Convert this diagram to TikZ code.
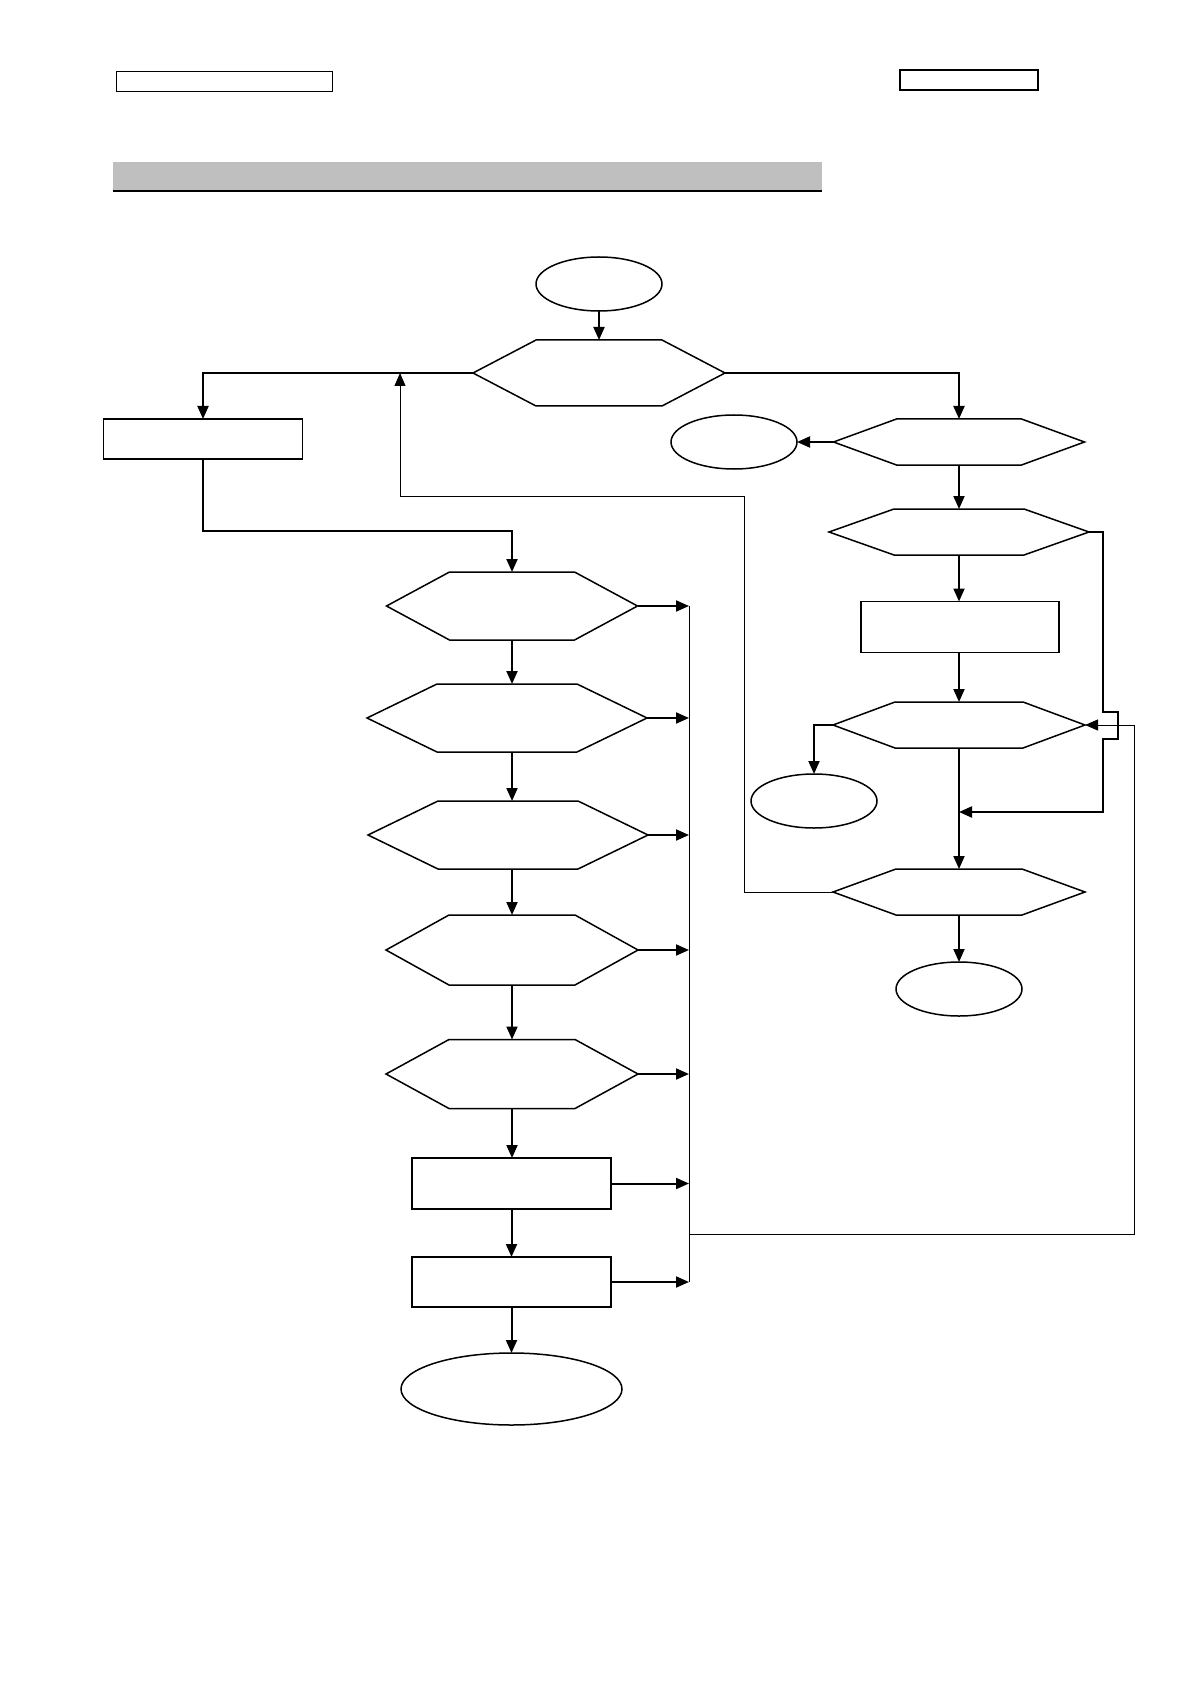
\documentclass[tikz,border=0pt]{standalone}
\usetikzlibrary{arrows.meta, positioning, shapes.geometric}
\tikzset{
  >={Triangle[length=6.5pt, width=5.5pt]},
  box/.style={rectangle, draw, line width=0.75pt, inner sep=0pt, outer sep=0pt},
  term/.style={ellipse, draw, line width=0.75pt, inner sep=0pt, outer sep=0pt,
               minimum width=63pt, minimum height=27pt},
  hexa/.style n args={3}{rectangle, inner sep=0pt, outer sep=0pt,
               minimum width=#1, minimum height=#2,
               append after command={\pgfextra{\draw[line width=0.75pt]
                 (\tikzlastnode.west) -- ([xshift=#3]\tikzlastnode.north west)
                 -- ([xshift=-#3]\tikzlastnode.north east) -- (\tikzlastnode.east)
                 -- ([xshift=-#3]\tikzlastnode.south east)
                 -- ([xshift=#3]\tikzlastnode.south west) -- cycle;}}},
  flow/.style={->, line width=1pt},
  link/.style={line width=0.5pt},
}
\begin{document}
\begin{tikzpicture}[x=0.5pt, y=-0.5pt]
  \useasboundingbox (0,0) rectangle (1191,1684);
  % page header
  \node[box, line width=0.5pt, minimum width=108pt, minimum height=10pt] (hdrl) at (224,82) {};
  \node[box, line width=1pt, minimum width=69pt, minimum height=10pt] (hdrr) at (969,80) {};
  \node[rectangle, fill=black!25, inner sep=0pt, minimum width=354.5pt, minimum height=14.5pt] (title) at (467.5,176.5) {};
  \draw[line width=1pt] (title.south west) -- (title.south east);

  % main branch
  \node[term] (start) at (599,284) {};
  \node[hexa={126pt}{33pt}{31.5pt}] (q0) at (599,373) {};
  \node[box, minimum width=99.5pt, minimum height=20pt] (b1) at (203,439) {};

  % right column
  \node[hexa={125.5pt}{23pt}{31.5pt}] (q1) at (959,442) {};
  \node[term] (e1) at (734,442) {};
  \node[hexa={130pt}{23pt}{32.5pt}] (q2) at (959,532) {};
  \node[box, minimum width=99pt, minimum height=25.5pt] (b2) at (960,627) {};
  \node[hexa={126pt}{23pt}{31pt}] (q3) at (959,725) {};
  \node[term] (e2) at (814,801) {};
  \node[hexa={126pt}{23pt}{31.5pt}] (q4) at (959,892) {};
  \node[term] (e3) at (959,989) {};

  % left column
  \node[hexa={125.5pt}{34pt}{31.5pt}] (p1) at (512,606) {};
  \node[hexa={140pt}{34pt}{35pt}] (p2) at (507,718) {};
  \node[hexa={140pt}{34pt}{35pt}] (p3) at (508,835) {};
  \node[hexa={126pt}{35pt}{31.5pt}] (p4) at (512,950) {};
  \node[hexa={126pt}{34.5pt}{31.5pt}] (p5) at (512,1074) {};
  \node[box, minimum width=99.5pt, minimum height=25.5pt] (b3) at (511.5,1183.5) {};
  \node[box, minimum width=99.5pt, minimum height=25pt] (b4) at (511.5,1282) {};
  \node[term, minimum width=110.5pt, minimum height=36pt] (stop) at (511.5,1389) {};

  \coordinate (lk) at (512,531);
  \coordinate (cx) at (689,0);
  \coordinate (jn) at (689,1234);
  \coordinate (rx) at (1134,0);
  \coordinate (m34) at (959,812);
  \coordinate (turn) at (400,496);
  \coordinate (back) at (400,373);

  \draw[flow] (start.south) -- (q0.north);
  \draw[flow] (q0.west) -| (b1.north);
  \draw[flow] (q0.east) -| (q1.north);
  \draw[flow] (q1.west) -- (e1.east);
  \draw[flow] (q1.south) -- (q2.north);
  \draw[flow] (q2.south) -- (q2.south |- b2.north);
  \draw[flow] (q3.north |- b2.south) -- (q3.north);
  \draw[flow] (q3.west) -| (e2.north);
  \draw[flow] (q3.south) -- (q4.north);
  \draw[flow] (q4.south) -- (e3.north);
  \draw[flow] (q2.east) -- ++(14,0) -- ++(0,180) -- ++(15,0) -- ++(0,27) -- ++(-15,0) |- (m34);
  \draw[link, ->] (q4.west) -| (744,496) -- (turn) -- (back);

  \draw[flow] (b1.south) |- (lk) -- (p1.north);
  \draw[flow] (p1.south) -- (p1.south |- p2.north);
  \draw[flow] (p2.south -| p1.south) -- (p1.south |- p3.north);
  \draw[flow] (p3.south -| p1.south) -- (p4.north);
  \draw[flow] (p4.south) -- (p5.north);
  \draw[flow] (p5.south) -- (p5.south |- b3.north);
  \draw[flow] (b3.south) -- (b4.north);
  \draw[flow] (b4.south) -- (stop.north);

  \foreach \n in {p1,p2,p3,p4,p5,b3,b4}
    \draw[flow] (\n.east) -- (\n.east -| cx);
  \draw[link] (p1.east -| cx) -- (b4.east -| cx);
  \draw[link, ->] (jn) -| (rx |- q3.east) -- (q3.east);
\end{tikzpicture}
\end{document}
